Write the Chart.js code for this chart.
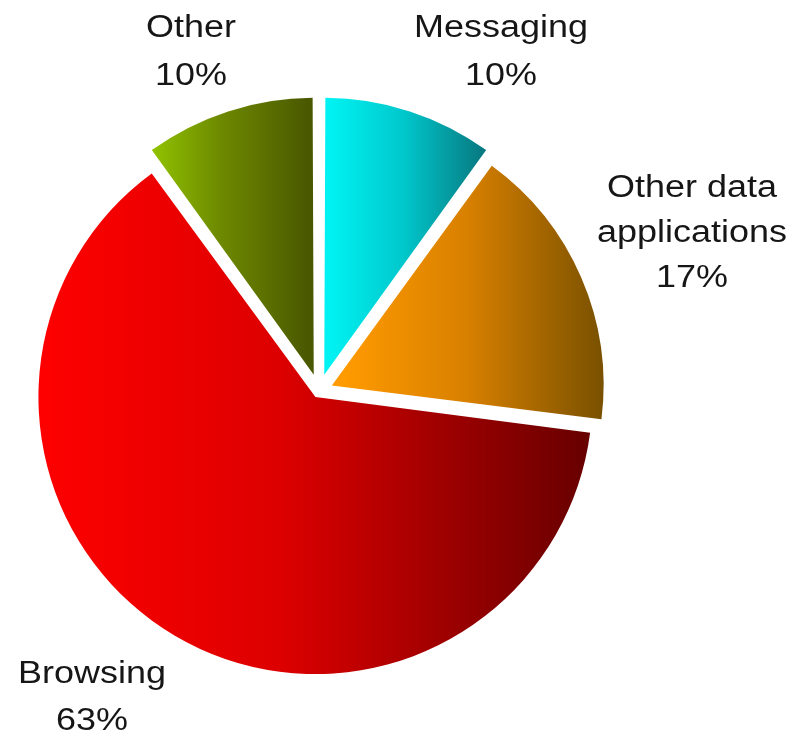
<!DOCTYPE html>
<html>
<head>
<meta charset="utf-8">
<script src="https://cdn.jsdelivr.net/npm/chart.js@4"></script>
<style>
  html, body { margin: 0; padding: 0; background: #fff; }
  #wrap { width: 798px; height: 732px; }
</style>
</head>
<body>
<div id="wrap"><canvas id="pie" width="798" height="732"></canvas></div>
<script>
"use strict";

// clockwise from 12 o'clock
const LABELS = ["Messaging", "Other data applications", "Browsing", "Other"];
const SHARES = [10, 17, 63, 10];
// how each label is broken into lines
const LABEL_LINES = [["Messaging"], ["Other data", "applications"], ["Browsing"], ["Other"]];

// gradient: bright left -> mid -> dark right
const COLOR_LEFT = ["#00f2f2", "#ff9a00", "#ff0000", "#94c800"];
const COLOR_MID = ["#00c8cc", "#d88000", "#dc0000", "#6e8a00"];
const COLOR_RIGHT = ["#087078", "#704c00", "#680000", "#4a5800"];

const RADIUS = 270;
const SHIFT = [17, 14, 7, 17]; // px each slice is pulled out

// text placement: centre x, first baseline, line step
const TEXT_POS = [
  { x: 501, y: 37, step: 48 },
  { x: 692, y: 197, step: 45 },
  { x: 92, y: 683, step: 47 },
  { x: 191, y: 37, step: 48 },
];

function sliceGradient(c) {
  const chart = c.chart;
  const i = c.dataIndex;
  const ca = chart.chartArea;
  if (!ca) return COLOR_LEFT[i];
  const total = SHARES.reduce((a, b) => a + b, 0);
  let before = 0;
  for (let k = 0; k < i; k++) before += SHARES[k];
  const s = -Math.PI / 2 + (before / total) * 2 * Math.PI;
  const e = s + (SHARES[i] / total) * 2 * Math.PI;
  const mid = (s + e) / 2;
  const d = SHIFT[i];
  const fix = 1 - Math.sin(Math.min(Math.PI, e - s));
  const r = RADIUS + d * fix;
  const ox = (ca.left + ca.right) / 2 + Math.cos(mid) * d;
  const xs = [ox, ox + r * Math.cos(s), ox + r * Math.cos(e)];
  // extreme points if the arc passes through 0 or PI
  for (let a = -2 * Math.PI; a <= 4 * Math.PI; a += Math.PI) {
    if (a > s && a < e) xs.push(ox + r * Math.cos(a));
  }
  const x0 = Math.min(...xs), x1 = Math.max(...xs);
  const g = chart.ctx.createLinearGradient(x0, 0, x1, 0);
  g.addColorStop(0, COLOR_LEFT[i]);
  g.addColorStop(0.45, COLOR_MID[i]);
  g.addColorStop(1, COLOR_RIGHT[i]);
  return g;
}

const sliceLabels = {
  id: "sliceLabels",
  afterDraw(chart) {
    const ctx = chart.ctx;
    ctx.save();
    ctx.fillStyle = "#161616";
    ctx.font = "31px 'Liberation Sans', Arial, sans-serif";
    ctx.textAlign = "center";
    ctx.textBaseline = "alphabetic";
    LABELS.forEach((name, i) => {
      const p = TEXT_POS[i];
      const lines = LABEL_LINES[i].concat([SHARES[i] + "%"]);
      lines.forEach((t, j) => {
        ctx.save();
        ctx.translate(p.x, p.y + j * p.step);
        ctx.scale(1.16, 1);
        ctx.fillText(t, 0, 0);
        ctx.restore();
      });
    });
    ctx.restore();
  },
};

new Chart(document.getElementById("pie"), {
  type: "pie",
  data: {
    labels: LABELS,
    datasets: [{
      data: SHARES,
      backgroundColor: sliceGradient,
      borderWidth: 0,
      offset: SHIFT.map((d) => d * 4), // chart.js moves arcs by offset/4
    }],
  },
  options: {
    responsive: false,
    animation: false,
    events: [],
    radius: RADIUS,
    layout: { padding: { left: 0, right: 160, top: 50, bottom: 0 } },
    plugins: {
      legend: { display: false },
      tooltip: { enabled: false },
    },
  },
  plugins: [sliceLabels],
});
</script>
</body>
</html>
